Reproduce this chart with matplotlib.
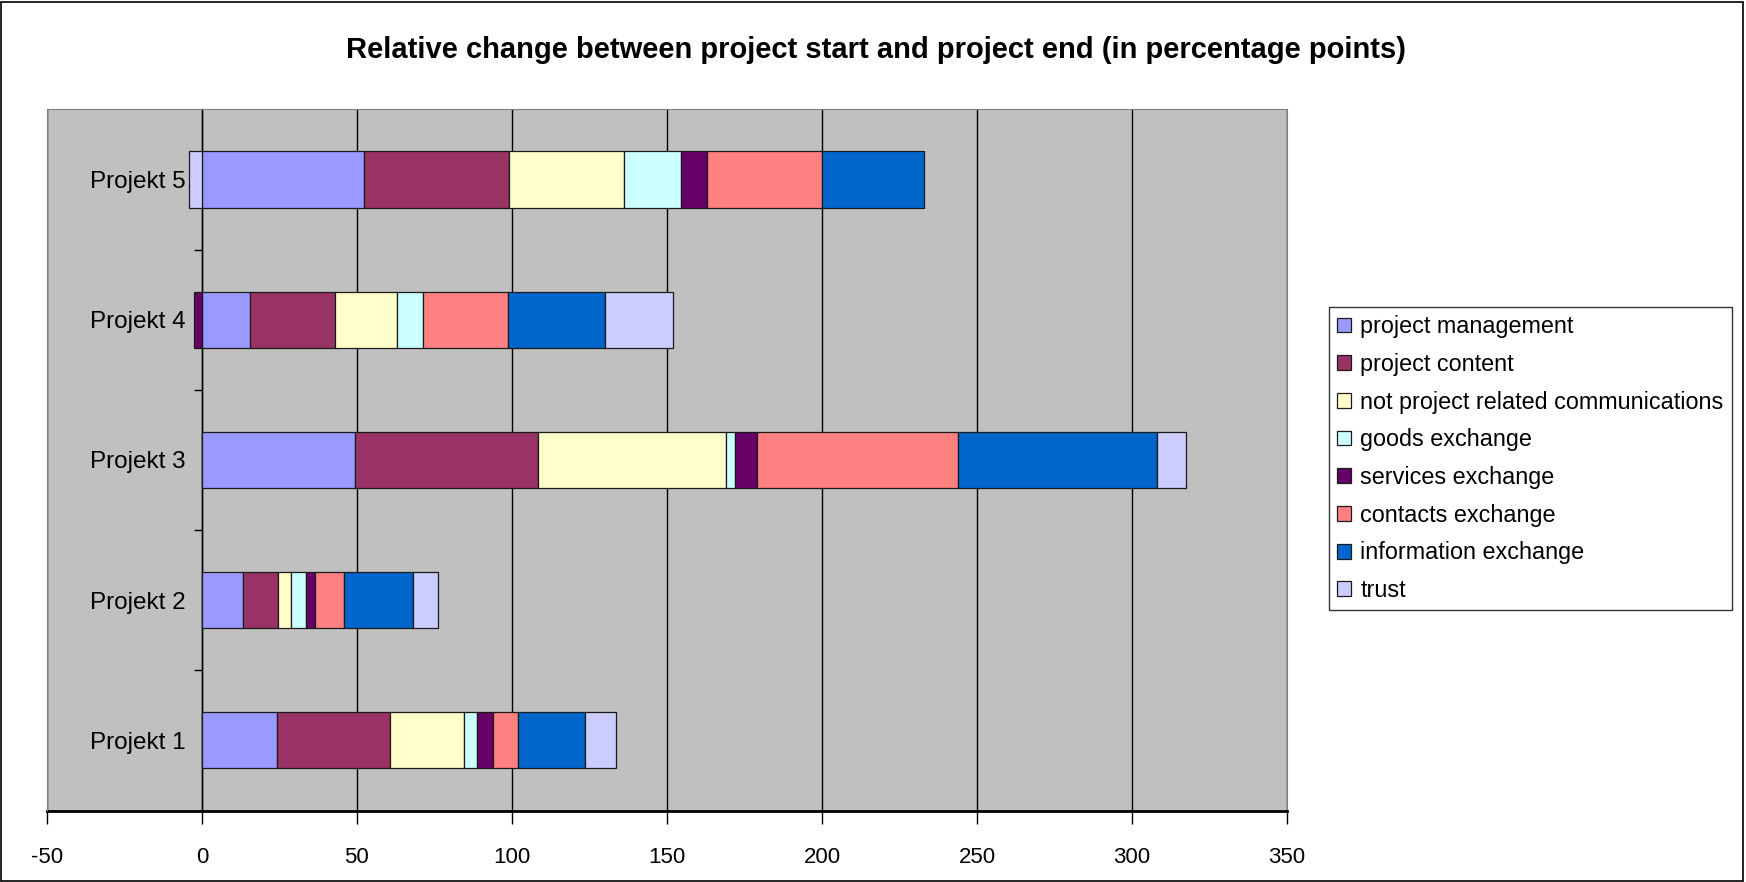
import numpy as np
import matplotlib
matplotlib.use("Agg")
import matplotlib.pyplot as plt
from matplotlib.patches import Rectangle

plt.rcParams['font.family'] = ['Liberation Sans', 'DejaVu Sans']

projects = ['Projekt 1', 'Projekt 2', 'Projekt 3', 'Projekt 4', 'Projekt 5']
series_names = ['project management', 'project content', 'not project related communications',
                'goods exchange', 'services exchange', 'contacts exchange',
                'information exchange', 'trust']
project_management = [24.3, 13.3, 49.3, 15.4, 52.2]
project_content = [36.4, 11.3, 59.0, 27.6, 46.7]
not_project_related = [24.0, 4.1, 60.7, 19.8, 37.2]
goods_exchange = [3.9, 4.8, 2.8, 8.6, 18.4]
services_exchange = [5.2, 3.0, 7.1, -2.5, 8.4]
contacts_exchange = [8.2, 9.4, 65.0, 27.3, 37.0]
information_exchange = [21.5, 22.1, 64.0, 31.4, 32.9]
trust = [10.0, 8.2, 9.5, 22.0, -4.3]
colors = ['#9999FF', '#993366', '#FFFFCC', '#CCFFFF', '#660066', '#FF8080', '#0066CC', '#CCCCFF']
x_ticks = [-50, 0, 50, 100, 150, 200, 250, 300, 350]

series = [project_management, project_content, not_project_related, goods_exchange,
          services_exchange, contacts_exchange, information_exchange, trust]

fig = plt.figure(figsize=(17.46, 8.82), dpi=100)
ax = fig.add_axes([0.0268, 0.081, 0.7104, 0.795])
ax.set_facecolor('#C0C0C0')

y = np.arange(len(projects))
pos_base = np.zeros(len(projects))
neg_base = np.zeros(len(projects))
handles = []
for vals, name, col in zip(series, series_names, colors):
    v = np.array(vals, dtype=float)
    left = np.where(v >= 0, pos_base, neg_base)
    h = ax.barh(y, v, left=left, height=0.4, color=col, edgecolor='#1a1a1a',
                linewidth=0.9, label=name, zorder=3)
    handles.append(h)
    pos_base = pos_base + np.where(v >= 0, v, 0)
    neg_base = neg_base + np.where(v < 0, v, 0)

ax.set_xlim(-50, 350)
ax.set_ylim(-0.5, 4.5)
ax.set_xticks(x_ticks)
ax.set_xticklabels([str(t) for t in x_ticks], fontsize=16)
ax.xaxis.grid(True, color='black', linewidth=1.0, zorder=1)
ax.set_axisbelow(True)

ax.spines['left'].set_position(('data', 0))
ax.spines['left'].set_color('black')
ax.spines['left'].set_linewidth(1.0)
ax.spines['left'].set_zorder(2)
ax.spines['right'].set_color('#808080')
ax.spines['top'].set_color('#808080')
ax.spines['right'].set_linewidth(0.8)
ax.spines['top'].set_linewidth(0.8)
ax.spines['bottom'].set_linewidth(2.0)

ax.set_yticks(y)
ax.set_yticklabels(projects, fontsize=17.5)
ax.tick_params(axis='y', which='major', length=0, pad=12)
ax.set_yticks(np.arange(0.5, 4.5, 1.0), minor=True)
ax.tick_params(axis='y', which='minor', length=6, direction='out', width=1)
ax.tick_params(axis='x', which='major', length=9, direction='out', width=1, pad=17)

# left plot-area border (gray)
fig.patches.append(Rectangle((0.0268, 0.081), 0.0, 0.795, transform=fig.transFigure,
                             fill=False, edgecolor='#808080', linewidth=0.8))

fig.text(0.502, 0.943, 'Relative change between project start and project end (in percentage points)',
         ha='center', va='center', fontsize=21, fontweight='bold')

leg = fig.legend(handles=handles, labels=series_names, loc='center left',
                 bbox_to_anchor=(0.761, 0.48), fontsize=16.8, frameon=True, fancybox=False,
                 edgecolor='black', handlelength=0.6, handleheight=0.6, handletextpad=0.4,
                 labelspacing=0.63, borderpad=0.35, borderaxespad=0)
leg.get_frame().set_linewidth(1.0)

fig.patches.append(Rectangle((0.0005, 0.001), 0.998, 0.997, transform=fig.transFigure,
                             fill=False, edgecolor='black', linewidth=1.2))

fig.savefig('out.png', dpi=100)
